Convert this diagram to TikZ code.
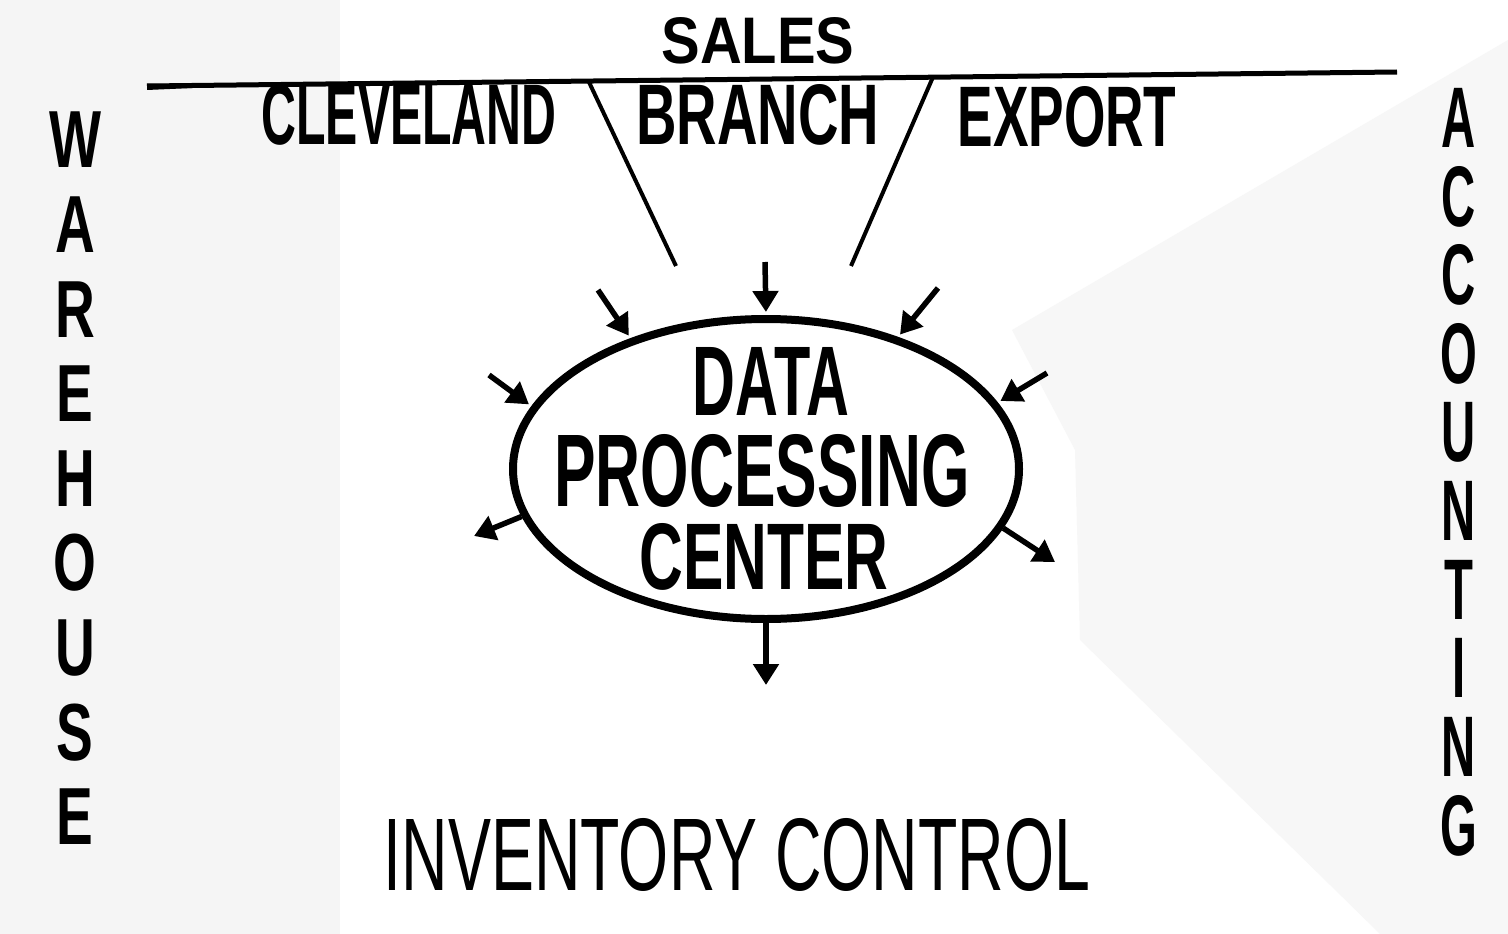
\documentclass[tikz,border=0pt]{standalone}
\usepackage{fontspec}
\setmainfont{Liberation Sans}
\usetikzlibrary{arrows.meta,shapes.geometric}
\newcommand{\fitbox}[3]{\resizebox{#1pt}{#2pt}{\bfseries #3}}
\newcommand{\vletter}[3]{\scalebox{#1}[1]{\fontsize{#2}{#2}\selectfont\bfseries #3}}
\begin{document}
\begin{tikzpicture}[x=1pt,y=-1pt,
  rule/.style={line width=5pt},
  link/.style={line width=4pt},
  arr/.style={line width=5.5pt,-{Triangle[length=21pt,width=25pt]}},
  lbl/.style={inner sep=0pt,outer sep=0pt,anchor=center},
  paper/.style={fill=black!4},
  paperlight/.style={fill=black!3}]
\useasboundingbox (0,0) rectangle (1508,934);
\fill[white] (0,0) rectangle (1508,934);
% faint paper texture regions
\fill[paper] (0,0) -- (340,0) -- (340,934) -- (0,934) -- cycle;
\fill[paperlight] (1012,330) -- (1508,40) -- (1508,934) -- (1380,934) -- (1080,640) -- (1075,450) -- cycle;

% top rule
\coordinate (hl) at (147,86);
\coordinate (hr) at (1397,72);
\draw[rule] (hl) -- (hr);
\fill (147,84) -- (330,82) -- (147,90) -- cycle;
\node[lbl] (sales) at (758,41) {\fitbox{193}{46}{SALES}};
\node[lbl] (cleveland) at (409,115) {\fitbox{295}{60}{CLEVELAND}};
\node[lbl] (branch) at (758,115) {\fitbox{243}{60}{BRANCH}};
\node[lbl] (export) at (1067,117) {\fitbox{219}{60}{EXPORT}};

\coordinate (s1) at (588,80);
\coordinate (e1) at (676,266);
\coordinate (s2) at (933,77);
\coordinate (e2) at (851,266);
\draw[link] (s1) -- (e1);
\draw[link] (s2) -- (e2);

% data processing center
\node[draw,ellipse,line width=8pt,minimum width=506pt,minimum height=300pt,inner sep=0pt] (dpc) at (766,469) {};
\node[lbl] (data) at (771,381) {\fitbox{156}{68}{DATA}};
\node[lbl] (proc) at (762,471) {\fitbox{415}{72}{PROCESSING}};
\node[lbl] (center) at (764,557) {\fitbox{249}{66}{CENTER}};

% inbound arrows
\coordinate (a1) at (765,262);
\coordinate (a2) at (598,290);
\coordinate (a3) at (938,288);
\coordinate (a4) at (489,375);
\coordinate (a5) at (1047,373);
\draw[arr,shorten >=3pt] (a1) -- (dpc.north);
\draw[arr,shorten >=3pt] (a2) -- (dpc.136);
\draw[arr,shorten >=3pt] (a3) -- (dpc.45);
\draw[arr,shorten >=3pt] (a4) -- (dpc.165);
\draw[arr,shorten >=3pt] (a5) -- (dpc.16);
% outbound arrows
\coordinate (b1) at (474,536);
\coordinate (b2) at (1055,562);
\coordinate (b3) at (766,685);
\draw[arr] (dpc.191) -- (b1);
\draw[arr] (dpc.346) -- (b2);
\draw[arr] (dpc.south) -- (b3);

% bottom label
\node[lbl] (inv) at (737,855) {\resizebox{706pt}{72pt}{INVENTORY CONTROL}};

% vertical labels
\foreach \L [count=\i from 0] in {W,A,R,E,H,O,U,S,E}
  \node[lbl] (wh\i) at (75,{140+84.6*\i}) {\vletter{0.68}{81}{\L}};
\foreach \L [count=\i from 0] in {A,C,C,O,U,N,T,I,N,G}
  \node[lbl] (ac\i) at (1459,{118+78.6*\i}) {\vletter{0.55}{86}{\L}};
\end{tikzpicture}
\end{document}
